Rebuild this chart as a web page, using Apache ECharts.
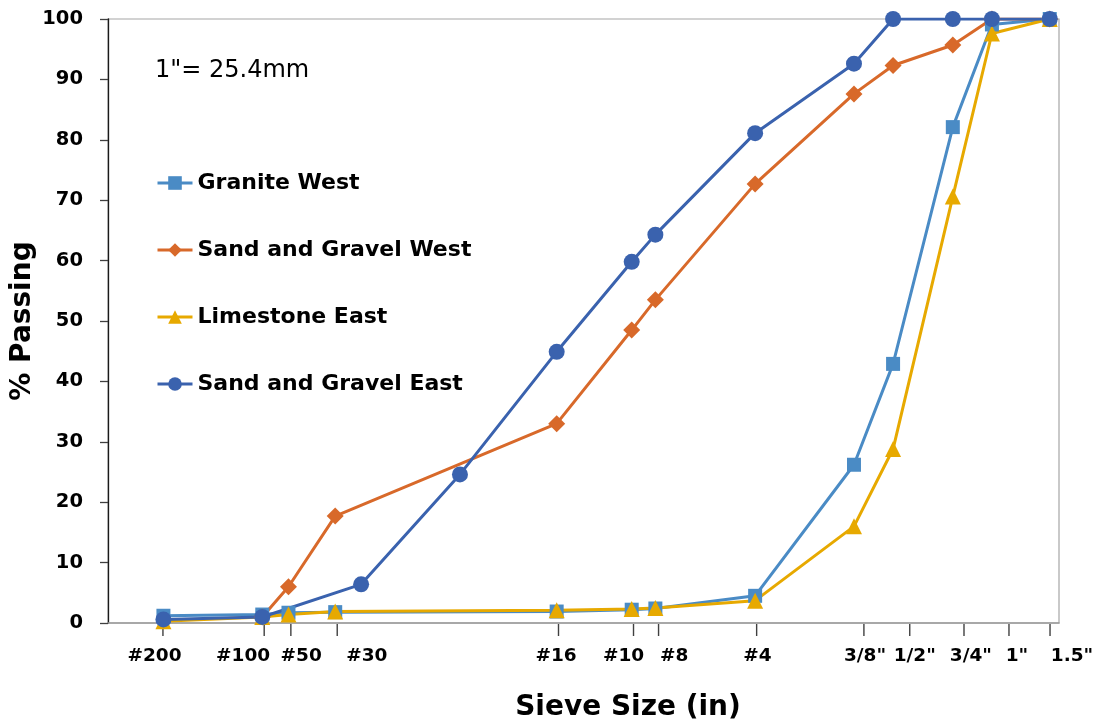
<!DOCTYPE html>
<html>
<head>
<meta charset="utf-8">
<script src="https://cdn.jsdelivr.net/npm/echarts@6/dist/echarts.min.js"></script>
<style>
  html, body { margin: 0; padding: 0; background: #fff; }
  #chart { width: 1099px; height: 728px; }
</style>
</head>
<body>
<div id="chart"></div>
<script>
// Sieve openings (inches)
const sievesWest = [0.00295, 0.0059, 0.00709, 0.00984, 0.0465, 0.0787, 0.0929, 0.187, 0.374, 0.492, 0.748, 0.984, 1.476];
const sievesEast = [0.00295, 0.0059, 0.0118, 0.0236, 0.0465, 0.0787, 0.0929, 0.187, 0.374, 0.492, 0.748, 0.984, 1.476];

// Percent passing for each aggregate source
const graniteWest    = [1.2, 1.4, 1.7, 1.8, 1.9, 2.2, 2.4, 4.5, 26.2, 42.9, 82.1, 99.1, 100];
const sandGravelWest = [null, 1.0, 6.0, 17.7, 33.0, 48.5, 53.5, 72.7, 87.6, 92.3, 95.7, 100, 100];
const limestoneEast  = [0.3, 1.0, 1.4, 1.9, 2.1, 2.3, 2.5, 3.7, 16.0, 28.8, 70.6, 97.6, 100];
const sandGravelEast = [0.6, 1.0, 6.4, 24.6, 44.9, 59.8, 64.3, 81.1, 92.6, 100, 100, 100, 100];

// Sieve designations along the bottom axis
const sieveLabels = ['#200', '#100', '#50', '#30', '#16', '#10', '#8', '#4', '3/8"', '1/2"', '3/4"', '1"', '1.5"'];
const sieveTickValues = [0.00294, 0.00598, 0.00721, 0.00998, 0.0471, 0.0797, 0.0950, 0.189, 0.401, 0.553, 0.809, 1.109, 1.479];
const sieveLabelValues = [0.00277, 0.00516, 0.00775, 0.01228, 0.0463, 0.0743, 0.106, 0.190, 0.404, 0.573, 0.849, 1.173, 1.726];

const yTicks = { min: 0, max: 100, interval: 10 };

const FONT = '"DejaVu Sans", "Liberation Sans", Arial, sans-serif';

function pairs(xs, ys) {
  const out = [];
  ys.forEach((y, i) => { if (y !== null) out.push([xs[i], y]); });
  return out;
}

function lineSeries(name, xs, ys, color, symbol, size) {
  return {
    name: name,
    type: 'line',
    data: pairs(xs, ys),
    symbol: symbol,
    symbolSize: size,
    showAllSymbol: true,
    lineStyle: { color: color, width: 3 },
    itemStyle: { color: color },
    emphasis: { disabled: true },
    animation: false
  };
}

const chart = echarts.init(document.getElementById('chart'), null, { renderer: 'canvas' });

const option = {
  backgroundColor: '#fff',
  animation: false,
  grid: {
    left: 108, right: 40, top: 19, bottom: 105,
    show: true, borderColor: '#a6a6a6', borderWidth: 1.2, backgroundColor: 'transparent'
  },
  legend: {
    orient: 'vertical',
    left: 156,
    top: 172,
    padding: 0,
    itemWidth: 35,
    itemHeight: 17,
    itemGap: 45,
    selectedMode: false,
    lineStyle: { width: 3 },
    textStyle: { fontFamily: FONT, fontWeight: 'bold', fontSize: 22, color: '#000', lineHeight: 22 },
    data: ['Granite West', 'Sand and Gravel West', 'Limestone East', 'Sand and Gravel East']
  },
  xAxis: {
    type: 'log',
    logBase: 10,
    min: 0.002,
    max: 1.575,
    axisLine: { show: true, lineStyle: { color: '#9a9a9a', width: 1.5 } },
    axisTick: { show: false },
    axisLabel: { show: false },
    splitLine: { show: false }
  },
  yAxis: {
    type: 'value',
    min: yTicks.min,
    max: yTicks.max,
    interval: yTicks.interval,
    axisLine: { show: true, lineStyle: { color: '#1a1a1a', width: 1.3 } },
    axisTick: { show: true, inside: false, length: 8, lineStyle: { color: '#404040', width: 1.3 } },
    axisLabel: { margin: 25, fontFamily: FONT, fontWeight: 'bold', fontSize: 19.5, color: '#000' },
    splitLine: { show: false }
  },
  series: [
    lineSeries('Granite West', sievesWest, graniteWest, '#4a8bc5', 'rect', 14),
    lineSeries('Sand and Gravel West', sievesWest, sandGravelWest, '#d8692a', 'diamond', 17),
    lineSeries('Limestone East', sievesWest, limestoneEast, '#e7a900', 'triangle', 16),
    lineSeries('Sand and Gravel East', sievesEast, sandGravelEast, '#3a62ae', 'circle', 16)
  ]
};

chart.setOption(option);

// Sieve ticks and labels placed through the x axis scale
const baseY = chart.convertToPixel({ yAxisIndex: 0 }, 0);
const graphics = [];
sieveTickValues.forEach(v => {
  const x = chart.convertToPixel({ xAxisIndex: 0 }, v);
  graphics.push({
    type: 'line', silent: true,
    shape: { x1: x, y1: baseY + 1, x2: x, y2: baseY + 13 },
    style: { stroke: '#404040', lineWidth: 1.4 }
  });
});
sieveLabelValues.forEach((v, i) => {
  graphics.push({
    type: 'text', silent: true,
    x: chart.convertToPixel({ xAxisIndex: 0 }, v),
    y: baseY + 33,
    style: {
      text: sieveLabels[i], align: 'center', verticalAlign: 'middle',
      fontFamily: FONT, fontWeight: 'bold', fontSize: 18.5, fill: '#000'
    }
  });
});
graphics.push({
  type: 'text', silent: true, x: 628, y: 708,
  style: { text: 'Sieve Size (in)', align: 'center', verticalAlign: 'middle',
           fontFamily: FONT, fontWeight: 'bold', fontSize: 28, fill: '#000' }
});
graphics.push({
  type: 'text', silent: true, x: 23, y: 321, rotation: Math.PI / 2,
  style: { text: '% Passing', align: 'center', verticalAlign: 'middle',
           fontFamily: FONT, fontWeight: 'bold', fontSize: 28, fill: '#000' }
});
graphics.push({
  type: 'text', silent: true, x: 155, y: 71,
  style: { text: '1"= 25.4mm', align: 'left', verticalAlign: 'middle',
           fontFamily: FONT, fontSize: 24, fill: '#000' }
});

chart.setOption({ graphic: graphics });
</script>
</body>
</html>
